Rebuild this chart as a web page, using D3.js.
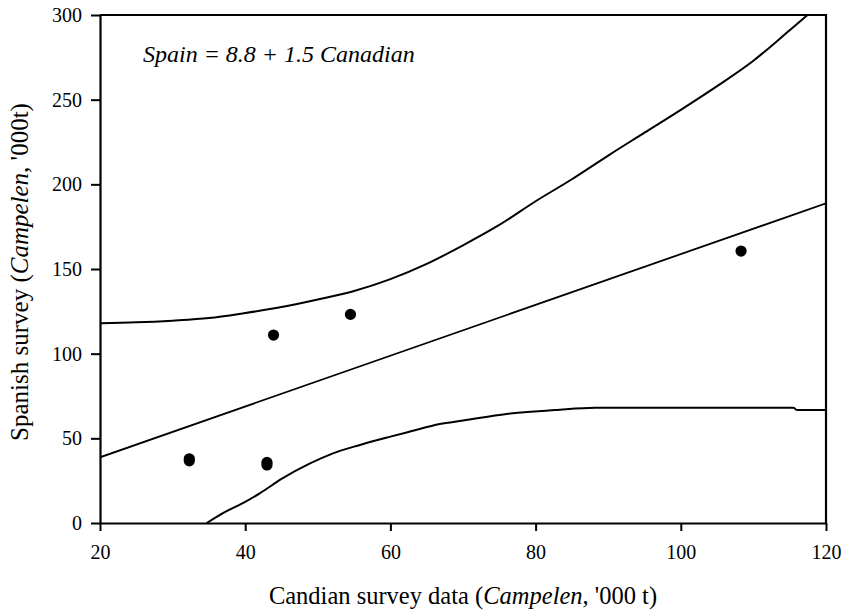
<!DOCTYPE html>
<html>
<head>
<meta charset="utf-8">
<script src="https://cdn.jsdelivr.net/npm/d3@7"></script>
<style>
    body { margin: 0; background: #fff; }
</style>
</head>
<body>
<div id="chart"></div>
<script>
// survey points (Canadian vs Spanish, '000 t)
const canadian = [32.3, 32.3, 43.0, 43.0, 43.9, 54.5, 108.3];
const spanish = [36.7, 37.9, 34.3, 35.8, 111.0, 123.2, 160.6];

// fitted line: Spain = 8.8 + 1.5 Canadian
const fitIntercept = 8.8;
const fitSlope = 1.5;

// upper prediction band
const upperX = [20, 25, 30, 35, 40, 45, 50, 55, 60, 65, 70, 75, 80, 85, 90, 95, 100, 105, 110, 115, 118];
const upperY = [118, 118.5, 119.5, 121, 124, 127.5, 132, 137, 144, 153, 164, 176, 190, 203, 217, 230.5, 244, 258, 273, 291, 302];

// lower prediction band
const lowerX = [34.7, 37, 40, 42, 45, 49, 52, 55.8, 60, 62.7, 66.8, 70, 76, 82.7, 88.2, 115.5, 116, 120];
const lowerY = [0, 6, 12.5, 17.5, 26, 35.3, 41, 46.1, 51, 54, 58.5, 60.5, 64.4, 66.7, 68.1, 68.1, 66.7, 66.7];

const xTicks = [20, 40, 60, 80, 100, 120];
const yTicks = [0, 50, 100, 150, 200, 250, 300];

const serif = "'Liberation Serif', 'DejaVu Serif', 'Noto Serif', serif";

class RegressionChart {
    constructor(parentContainer) {
        this.parentContainer = parentContainer;
        this.initVis();
    }

    initVis() {
        let vis = this;

        vis.margin = {top: 15, right: 19, bottom: 89, left: 100};
        vis.width = 845 - vis.margin.left - vis.margin.right;
        vis.height = 612 - vis.margin.top - vis.margin.bottom;

        vis.svg = d3.select("#" + vis.parentContainer)
            .append("svg")
            .attr("width", 845)
            .attr("height", 612)
            .attr("font-family", serif)
            .append("g")
            .attr("transform", `translate(${vis.margin.left}, ${vis.margin.top})`);

        vis.x = d3.scaleLinear().domain([20, 120]).range([0, vis.width]);
        vis.y = d3.scaleLinear().domain([0, 300]).range([vis.height, 0]);

        vis.svg.append("clipPath")
            .attr("id", "plotClip")
            .append("rect")
            .attr("width", vis.width)
            .attr("height", vis.height);

        vis.updateVis();
    }

    updateVis() {
        let vis = this;

        const line = d3.line()
            .x(d => vis.x(d[0]))
            .y(d => vis.y(d[1]));

        const band = d3.line()
            .x(d => vis.x(d[0]))
            .y(d => vis.y(d[1]))
            .curve(d3.curveMonotoneX);

        const plot = vis.svg.append("g").attr("clip-path", "url(#plotClip)");

        // bands
        [d3.zip(upperX, upperY), d3.zip(lowerX, lowerY)].forEach(pts => {
            plot.append("path")
                .datum(pts)
                .attr("fill", "none")
                .attr("stroke", "#000")
                .attr("stroke-width", 2)
                .attr("d", band);
        });

        // fitted line
        const fit = [20, 120].map(c => [c, fitIntercept + fitSlope * c]);
        plot.append("path")
            .datum(fit)
            .attr("fill", "none")
            .attr("stroke", "#000")
            .attr("stroke-width", 1.8)
            .attr("d", line);

        // points
        plot.selectAll("circle")
            .data(d3.zip(canadian, spanish))
            .enter()
            .append("circle")
            .attr("cx", d => vis.x(d[0]))
            .attr("cy", d => vis.y(d[1]))
            .attr("r", 5.6)
            .attr("fill", "#000");

        // axes
        const xAxis = vis.svg.append("g")
            .attr("transform", `translate(0, ${vis.height})`)
            .call(d3.axisBottom(vis.x).tickValues(xTicks).tickSize(8).tickPadding(14).tickSizeOuter(0));

        const yAxis = vis.svg.append("g")
            .call(d3.axisLeft(vis.y).tickValues(yTicks).tickSize(9).tickPadding(9).tickSizeOuter(0));

        [xAxis, yAxis].forEach(a => {
            a.attr("font-family", serif).attr("font-size", 20);
            a.select(".domain").attr("stroke-width", 2.2);
            a.selectAll(".tick line").attr("stroke-width", 2);
            a.selectAll("text").attr("fill", "#000");
        });

        // top and right frame
        vis.svg.append("path")
            .attr("d", `M0,0H${vis.width}V${vis.height}`)
            .attr("fill", "none")
            .attr("stroke", "#000")
            .attr("stroke-width", 2.2);

        // equation
        vis.svg.append("text")
            .attr("x", 43)
            .attr("y", 47)
            .attr("font-size", 24)
            .attr("font-style", "italic")
            .text("Spain = 8.8 + 1.5 Canadian");

        // axis titles
        const xTitle = vis.svg.append("text")
            .attr("x", vis.width / 2)
            .attr("y", vis.height + 81)
            .attr("text-anchor", "middle")
            .attr("font-size", 24.5);
        xTitle.append("tspan").text("Candian survey data (");
        xTitle.append("tspan").attr("font-style", "italic").text("Campelen");
        xTitle.append("tspan").text(", '000 t)");

        const yTitle = vis.svg.append("text")
            .attr("transform", `translate(-72, ${vis.height / 2 + 3}) rotate(-90)`)
            .attr("text-anchor", "middle")
            .attr("font-size", 25);
        yTitle.append("tspan").text("Spanish survey (");
        yTitle.append("tspan").attr("font-style", "italic").text("Campelen");
        yTitle.append("tspan").text(", '000t)");
    }
}

new RegressionChart("chart");
</script>
</body>
</html>
